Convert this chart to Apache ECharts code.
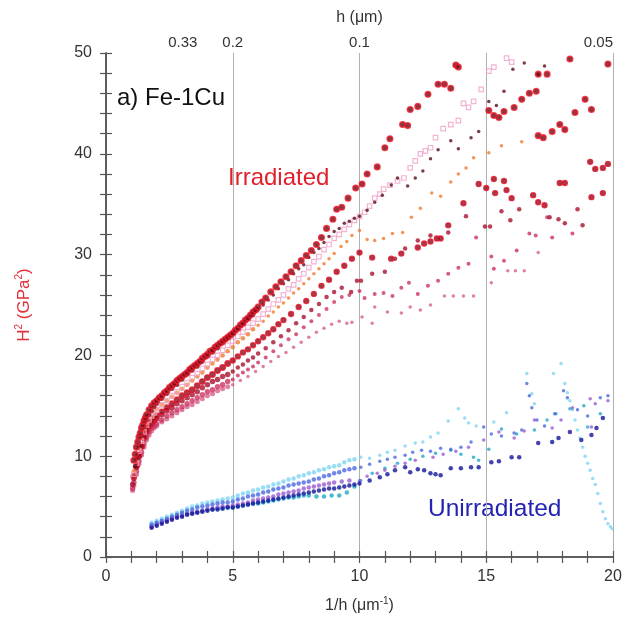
<!DOCTYPE html>
<html>
<head>
<meta charset="utf-8">
<script src="https://cdn.jsdelivr.net/npm/echarts@6/dist/echarts.min.js"></script>
<style>html,body{margin:0;padding:0;background:#fff;}#c{width:633px;height:632px;}</style>
</head>
<body>
<div id="c"></div>
<script>
// ---- tick labels ----
const bottomTicks = [0, 5, 10, 15, 20];
const topTickPositions = [3.03, 5, 10, 20];
const topTickLabels = ['0.33', '0.2', '0.1', '0.05'];
const yTicks = [0, 10, 20, 30, 40, 50];

// ---- Irradiated series ([1/h, H^2]) ----
const irrA = [[1.1,9.6],[1.15,10.2],[1.2,10.9],[1.25,11.4],[1.3,11.9],[1.35,12.3],[1.4,12.8],[1.45,13.1],[1.5,13.5],[1.55,13.8],[1.6,14.1],[1.7,14.6],[1.8,15.0],[1.9,15.3],[2.0,15.5],[2.1,15.8],[2.2,16.0],[2.3,16.3],[2.4,16.5],[2.5,16.8],[2.6,17.0],[2.7,17.2],[2.8,17.5],[2.9,17.7],[3.0,17.9],[3.1,18.1],[3.2,18.3],[3.3,18.6],[3.4,18.8],[3.5,19.0],[3.6,19.2],[3.7,19.4],[3.8,19.7],[3.9,19.9],[4.0,20.1],[4.1,20.4],[4.2,20.5],[4.3,20.8],[4.4,21.0],[4.5,21.2],[4.6,21.4],[4.7,21.6],[4.8,21.8],[4.9,22.0],[5.0,22.2],[5.1,22.5],[5.2,22.7],[5.3,23.0],[5.4,23.2],[5.5,23.5],[5.6,23.7],[5.7,24.0],[5.8,24.3],[5.9,24.5],[6.0,24.8],[6.15,25.3],[6.3,25.7],[6.5,26.3],[6.7,26.8],[6.9,27.3],[7.1,27.8],[7.3,28.3],[7.5,28.9],[7.7,29.4],[7.9,29.9],[8.1,30.4],[8.3,31.0],[8.5,31.7],[8.7,32.6],[8.95,33.5],[9.1,34.5],[9.3,34.7],[9.55,35.6],[9.85,36.6],[10.1,37.0],[10.3,38.0],[10.7,38.7],[11.0,40.6],[11.2,41.5],[11.7,42.9],[11.9,42.8],[12.0,44.4],[12.3,44.7],[12.7,45.9],[13.1,46.9],[13.35,46.9],[13.6,46.5],[13.8,48.8],[13.9,48.6],[15.1,44.3],[15.3,43.8],[15.5,43.6],[15.7,44.2],[16.1,44.6],[16.4,45.4],[16.7,46.0],[16.97,46.2],[17.05,47.9],[17.4,47.9],[18.3,49.4],[19.8,48.9],[18.9,45.4],[19.15,44.4],[18.5,44.1],[17.9,42.9],[18.1,42.4],[17.6,42.2],[17.05,41.8],[17.25,41.6]];
const irrB = [[1.15,9.0],[1.2,9.8],[1.3,11.0],[1.4,12.0],[1.5,12.9],[1.6,13.6],[1.7,14.1],[1.8,14.5],[1.9,14.9],[2.0,15.2],[2.2,15.7],[2.4,16.2],[2.6,16.7],[2.8,17.1],[3.0,17.6],[3.2,18.1],[3.4,18.5],[3.6,18.9],[3.8,19.4],[4.0,19.9],[4.2,20.3],[4.4,20.7],[4.6,21.2],[4.8,21.7],[5.0,22.2],[5.2,22.6],[5.4,23.1],[5.6,23.6],[5.8,24.0],[6.0,24.5],[6.2,25.0],[6.4,25.5],[6.6,26.0],[6.8,26.6],[7.0,27.1],[7.2,27.5],[7.4,28.1],[7.6,28.6],[7.8,29.0],[8.0,29.7],[8.2,30.2],[8.4,30.6],[8.6,31.2],[8.8,31.8],[9.0,32.3],[9.2,32.6],[9.4,33.1],[9.6,33.3],[9.8,33.6],[10.0,33.8],[10.3,34.4],[10.6,35.2],[10.9,35.9],[11.25,36.9],[11.5,37.6],[11.9,36.8],[12.2,37.6],[12.5,38.3],[12.8,39.5],[13.1,40.4],[13.6,41.3],[13.9,40.5],[14.4,41.6],[14.7,42.2],[15.1,45.2],[15.4,44.8],[15.7,46.2],[16.05,48.4],[16.5,49.0],[17.05,47.9],[17.3,48.7]];
const irrC = [[1.1,8.5],[1.2,9.6],[1.3,10.8],[1.4,11.8],[1.5,12.7],[1.6,13.3],[1.7,13.8],[1.8,14.1],[1.9,14.4],[2.0,14.7],[2.2,15.1],[2.4,15.5],[2.6,15.9],[2.8,16.3],[3.0,16.7],[3.2,17.1],[3.4,17.5],[3.6,17.9],[3.8,18.3],[4.0,18.8],[4.2,19.2],[4.4,19.6],[4.6,20.0],[4.8,20.4],[5.0,20.8],[5.2,21.3],[5.4,21.7],[5.6,22.1],[5.8,22.6],[6.0,23.0],[6.2,23.4],[6.4,23.9],[6.6,24.3],[6.8,24.8],[7.0,25.2],[7.2,25.7],[7.4,26.2],[7.6,26.6],[7.8,27.1],[8.0,27.6],[8.2,28.1],[8.4,28.6],[8.6,29.1],[8.8,29.6],[9.0,30.1],[9.27,30.8],[9.5,31.3],[9.7,31.9],[10.0,32.4],[10.3,31.5],[10.6,31.4],[10.95,31.6],[11.3,32.1],[11.7,32.2],[12.05,33.7],[12.4,34.6],[12.85,36.1],[13.2,35.8],[13.6,37.2],[13.9,38.0],[14.2,38.6],[14.5,39.6],[15.1,40.1],[15.6,40.8],[16.4,41.2]];
const irrD = [[1.1,8.2],[1.2,9.3],[1.3,10.5],[1.4,11.5],[1.5,12.4],[1.6,13.1],[1.7,13.6],[1.8,14.0],[1.9,14.3],[2.0,14.6],[2.2,15.1],[2.4,15.5],[2.6,16.0],[2.8,16.4],[3.0,16.9],[3.2,17.3],[3.4,17.8],[3.6,18.2],[3.8,18.7],[4.0,19.1],[4.2,19.6],[4.4,20.0],[4.6,20.5],[4.8,21.0],[5.0,21.4],[5.2,21.9],[5.4,22.3],[5.6,22.8],[5.8,23.2],[6.0,23.6],[6.2,24.1],[6.4,24.6],[6.6,25.1],[6.8,25.5],[7.0,26.0],[7.2,26.6],[7.4,27.0],[7.6,27.6],[7.8,28.1],[8.0,28.7],[8.2,29.3],[8.4,29.8],[8.6,30.5],[8.8,31.0],[9.0,31.6],[9.2,32.0],[9.4,32.5],[9.6,33.0],[9.8,33.4],[10.0,33.8],[10.2,34.2],[10.4,34.8],[10.6,35.6],[10.8,36.0],[10.95,36.5],[11.2,36.9],[11.5,37.3],[11.75,37.6],[12.0,38.6],[12.2,39.3],[12.4,40.0],[12.6,40.3],[12.8,40.6],[13.0,41.6],[13.3,42.5],[13.6,42.9],[13.9,43.3],[14.1,45.0],[14.3,44.6],[14.5,45.2],[14.8,46.4],[15.1,48.2],[15.3,48.6],[15.8,49.5],[16.0,49.1]];
const irrE = [[1.1,8.0],[1.2,9.0],[1.3,10.1],[1.4,11.0],[1.5,11.9],[1.6,12.6],[1.7,13.1],[1.8,13.5],[1.9,13.8],[2.0,14.0],[2.2,14.4],[2.4,14.8],[2.6,15.2],[2.8,15.6],[3.0,16.0],[3.2,16.3],[3.4,16.6],[3.6,17.0],[3.8,17.4],[4.0,17.8],[4.2,18.1],[4.4,18.5],[4.6,18.8],[4.8,19.2],[5.0,19.5],[5.2,19.9],[5.4,20.3],[5.6,20.6],[5.8,21.0],[6.0,21.4],[6.2,21.8],[6.4,22.2],[6.6,22.6],[6.8,23.1],[7.0,23.5],[7.3,24.1],[7.6,24.8],[7.9,25.4],[8.2,26.1],[8.5,26.9],[8.8,27.5],[9.1,28.3],[9.4,28.9],[9.7,29.6],[10.0,30.2],[10.5,29.7],[11.25,29.6],[11.65,30.1],[12.3,30.7],[12.55,31.1],[12.8,31.3],[13.05,31.6],[13.2,31.6],[13.5,32.9],[14.1,35.1],[14.7,37.0],[15.0,36.6],[15.3,37.5],[15.7,37.3],[15.35,36.1],[15.8,36.4],[16.0,35.6],[16.85,35.9],[17.05,35.2],[17.3,34.9],[17.9,37.1],[18.1,37.1],[19.15,35.7],[19.6,36.1],[19.1,39.2],[19.3,38.5],[19.6,38.6],[19.8,39.0]];
const irrF = [[1.05,7.2],[1.1,7.8],[1.2,8.9],[1.3,9.9],[1.4,10.9],[1.5,11.7],[1.6,12.4],[1.7,12.9],[1.8,13.2],[1.9,13.5],[2.0,13.7],[2.2,14.1],[2.4,14.5],[2.6,14.8],[2.8,15.2],[3.0,15.5],[3.2,15.8],[3.4,16.1],[3.6,16.4],[3.8,16.8],[4.0,17.1],[4.2,17.4],[4.4,17.6],[4.6,17.9],[4.8,18.1],[5.0,18.4],[5.2,18.8],[5.4,19.1],[5.6,19.5],[5.8,19.8],[6.0,20.2],[6.3,20.7],[6.6,21.3],[6.9,21.9],[7.2,22.5],[7.5,23.2],[7.8,23.8],[8.1,24.5],[8.4,25.1],[8.7,25.8],[9.0,26.3],[9.3,26.7],[9.67,26.3],[9.9,27.4],[10.06,27.4],[10.5,28.1],[11.0,28.3],[11.4,29.6],[11.8,30.6],[12.3,31.4],[12.8,31.9],[13.5,32.2],[14.2,33.8],[14.95,32.8],[15.15,32.8],[15.6,34.3],[15.95,33.4],[16.3,34.5],[17.5,33.7],[17.85,33.5],[18.1,33.1],[18.6,34.5],[18.8,32.9]];
const irrG = [[1.05,6.8],[1.1,7.4],[1.2,8.5],[1.3,9.5],[1.4,10.4],[1.5,11.2],[1.6,11.9],[1.7,12.4],[1.8,12.8],[1.9,13.0],[2.0,13.2],[2.2,13.6],[2.4,14.0],[2.6,14.3],[2.8,14.6],[3.0,14.9],[3.2,15.2],[3.4,15.5],[3.6,15.8],[3.8,16.1],[4.0,16.4],[4.2,16.6],[4.4,16.9],[4.6,17.1],[4.8,17.4],[5.0,17.6],[5.2,18.0],[5.4,18.3],[5.6,18.6],[5.8,18.9],[6.0,19.3],[6.3,19.8],[6.6,20.4],[6.9,21.0],[7.2,21.6],[7.5,22.1],[7.8,22.8],[8.1,23.4],[8.4,24.0],[8.7,24.6],[9.0,25.3],[9.3,25.8],[9.6,26.0],[10.0,26.4],[10.2,25.7],[10.6,26.1],[10.95,26.2],[11.3,25.9],[11.65,26.7],[11.95,27.2],[12.3,26.1],[12.7,26.9],[13.1,27.4],[13.5,28.1],[13.9,28.7],[14.3,29.1],[14.6,31.7],[15.2,29.8],[15.3,28.6],[15.7,29.4],[16.2,30.4],[16.7,32.1],[16.95,31.9],[17.4,33.7],[17.6,31.7],[18.4,32.1]];
const irrH = [[1.05,6.6],[1.1,7.1],[1.2,8.2],[1.3,9.2],[1.4,10.1],[1.5,10.9],[1.6,11.6],[1.7,12.1],[1.8,12.5],[1.9,12.8],[2.0,13.0],[2.2,13.4],[2.4,13.7],[2.6,14.0],[2.8,14.3],[3.0,14.6],[3.2,14.9],[3.4,15.1],[3.6,15.4],[3.8,15.7],[4.0,16.0],[4.2,16.2],[4.4,16.5],[4.6,16.7],[4.8,16.9],[5.0,17.1],[5.3,17.5],[5.6,17.9],[5.9,18.4],[6.2,18.9],[6.5,19.4],[6.8,19.9],[7.1,20.3],[7.4,20.8],[7.7,21.3],[8.0,21.8],[8.3,22.3],[8.6,22.7],[8.9,23.1],[9.2,23.4],[9.5,23.2],[9.7,23.3],[10.1,23.8],[10.5,23.2],[10.6,24.8],[11.1,24.3],[11.65,24.2],[12.0,24.8],[12.4,24.5],[12.8,25.0],[13.35,25.9],[13.7,25.9],[14.1,25.9],[14.5,25.9],[15.2,27.2],[15.85,28.4],[16.15,28.4],[16.5,28.4],[17.05,30.2]];

// ---- Unirradiated series ----
const unCyan = [[1.8,3.4],[2.0,3.6],[2.2,3.8],[2.4,4.0],[2.6,4.2],[2.8,4.4],[3.0,4.6],[3.2,4.8],[3.4,5.0],[3.6,5.1],[3.8,5.3],[4.0,5.4],[4.2,5.5],[4.4,5.6],[4.6,5.7],[4.8,5.8],[5.0,5.9],[5.2,6.1],[5.4,6.3],[5.6,6.4],[5.8,6.6],[6.0,6.7],[6.2,6.9],[6.4,7.0],[6.6,7.2],[6.8,7.3],[7.0,7.5],[7.2,7.7],[7.4,7.8],[7.6,8.0],[7.8,8.1],[8.0,8.3],[8.2,8.4],[8.4,8.6],[8.6,8.7],[8.8,8.9],[9.0,9.0],[9.2,9.1],[9.4,9.4],[9.6,9.6],[9.8,9.7],[10.05,9.9],[10.4,9.8],[10.8,10.1],[11.1,10.4],[11.4,10.6],[11.8,11.0],[12.2,11.3],[12.5,11.4],[12.8,11.9],[13.1,12.3],[13.5,13.5],[13.9,14.7],[14.15,13.8],[14.3,13.3],[14.6,13.0],[15.3,13.4],[15.8,14.3],[16.6,18.2],[16.8,16.2],[16.9,15.2],[17.65,18.2],[17.95,19.2],[18.1,17.2],[18.2,16.3],[18.3,15.5],[18.4,14.6],[18.5,13.6],[18.6,12.6],[18.7,11.8],[18.8,10.9],[18.9,10.0],[19.0,9.3],[19.1,8.6],[19.2,7.8],[19.3,7.2],[19.4,6.3],[19.5,5.3],[19.6,4.5],[19.7,3.8],[19.8,3.3],[19.9,3.0],[19.97,2.8]];
const unBlue = [[1.8,3.2],[2.0,3.4],[2.2,3.6],[2.4,3.8],[2.6,4.0],[2.8,4.2],[3.0,4.4],[3.2,4.6],[3.4,4.7],[3.6,4.9],[3.8,5.0],[4.0,5.1],[4.2,5.2],[4.4,5.3],[4.6,5.4],[4.8,5.4],[5.0,5.5],[5.2,5.7],[5.4,5.8],[5.6,6.0],[5.8,6.1],[6.0,6.2],[6.2,6.4],[6.4,6.5],[6.6,6.7],[6.8,6.8],[7.0,6.9],[7.2,7.1],[7.4,7.2],[7.6,7.3],[7.8,7.4],[8.0,7.5],[8.2,7.7],[8.4,7.8],[8.6,8.0],[8.8,8.1],[9.0,8.3],[9.2,8.4],[9.4,8.6],[9.6,8.7],[9.8,8.8],[10.05,8.9],[10.4,9.2],[10.8,9.5],[11.1,9.7],[11.4,9.9],[11.8,10.1],[12.1,10.4],[12.45,10.6],[12.8,10.5],[13.2,10.8],[13.6,10.7],[14.0,10.9],[14.4,11.4],[14.9,12.9],[15.2,12.2],[15.6,12.0],[16.1,12.3],[16.4,12.6],[16.6,17.2],[16.7,16.0],[16.8,14.8],[17.0,13.6],[17.3,13.0],[17.7,14.2],[18.05,16.5],[18.2,15.8],[18.6,14.6],[19.0,14.0],[19.5,15.8],[19.8,16.0]];
const unPurple = [[1.8,3.0],[2.0,3.2],[2.2,3.4],[2.4,3.6],[2.6,3.8],[2.8,4.0],[3.0,4.1],[3.2,4.3],[3.4,4.4],[3.6,4.5],[3.8,4.6],[4.0,4.7],[4.2,4.8],[4.4,4.9],[4.6,5.0],[4.8,5.0],[5.0,5.1],[5.2,5.2],[5.4,5.3],[5.6,5.4],[5.8,5.6],[6.0,5.7],[6.2,5.8],[6.4,5.9],[6.6,6.0],[6.8,6.2],[7.0,6.3],[7.2,6.4],[7.4,6.5],[7.6,6.6],[7.8,6.8],[8.0,6.9],[8.2,7.0],[8.4,7.1],[8.6,7.2],[8.8,7.3],[9.0,7.4],[9.3,7.5],[9.6,7.6],[10.0,7.6],[10.3,8.0],[10.7,8.3],[11.0,8.6],[11.4,9.0],[11.8,9.3],[12.2,9.6],[12.9,9.9],[13.3,10.2],[13.8,10.5],[14.3,10.9],[14.9,11.6],[15.5,12.4],[16.1,11.8],[16.5,12.5],[16.9,13.6],[17.6,12.8],[17.95,13.6],[18.4,14.8],[19.1,15.7],[19.3,15.2],[19.8,15.5],[19.15,12.9]];
const unNavy = [[1.8,2.9],[2.0,3.1],[2.2,3.3],[2.4,3.5],[2.6,3.7],[2.8,3.9],[3.0,4.0],[3.2,4.2],[3.4,4.3],[3.6,4.4],[3.8,4.5],[4.0,4.6],[4.2,4.7],[4.4,4.7],[4.6,4.8],[4.8,4.9],[5.0,4.9],[5.2,5.0],[5.4,5.1],[5.6,5.2],[5.8,5.3],[6.0,5.4],[6.2,5.5],[6.4,5.6],[6.6,5.7],[6.8,5.8],[7.0,5.9],[7.2,6.0],[7.4,6.1],[7.6,6.2],[7.8,6.3],[8.0,6.4],[8.2,6.5],[8.4,6.6],[8.6,6.7],[8.8,6.8],[9.0,6.8],[9.2,6.9],[9.4,7.0],[9.6,7.1],[9.8,7.2],[10.0,7.3],[10.4,7.6],[10.8,7.9],[11.1,8.2],[11.4,8.6],[11.8,8.9],[12.0,8.4],[12.3,8.7],[12.55,8.6],[12.8,8.3],[13.0,8.2],[13.2,8.1],[13.6,8.8],[14.0,8.8],[14.4,8.9],[14.7,8.9],[15.2,9.4],[15.5,9.5],[16.0,9.9],[16.3,9.9],[17.05,11.3],[17.6,11.4],[17.85,11.8],[18.3,12.4],[18.75,11.6],[19.15,12.1],[19.35,12.8],[19.6,13.8]];
const unTeal = [[1.8,3.1],[2.0,3.3],[2.2,3.5],[2.4,3.7],[2.6,3.9],[2.8,4.1],[3.0,4.2],[3.2,4.3],[3.4,4.4],[3.6,4.5],[3.8,4.6],[4.0,4.7],[4.2,4.7],[4.4,4.8],[4.6,4.8],[4.8,4.9],[5.0,4.9],[5.2,5.0],[5.4,5.1],[5.6,5.2],[5.8,5.3],[6.0,5.3],[6.2,5.4],[6.4,5.5],[6.6,5.6],[6.8,5.7],[7.0,5.8],[7.2,5.9],[7.4,5.9],[7.6,6.0],[7.8,6.1],[8.0,6.1],[8.3,6.0],[8.6,6.0],[8.9,6.1],[9.2,6.1],[9.5,6.4],[9.8,7.0],[10.05,7.6],[10.5,8.3],[11.0,8.8],[11.5,9.3],[12.0,9.7],[12.5,10.0],[13.0,10.3],[13.6,10.6],[14.0,10.2],[14.5,9.9],[14.7,9.6],[15.1,10.7],[15.6,12.7],[16.2,12.2],[16.9,12.6],[17.4,13.6],[17.75,14.2],[18.3,14.7],[18.85,15.0],[19.0,12.9],[19.5,14.2]];

const FONT = 'Liberation Sans, Arial, sans-serif';
const chart = echarts.init(document.getElementById('c'), null, {renderer: 'canvas'});

// symbols are drawn a little larger where the measured points are densely packed
function sizeFn(base, denseLimit, boost) {
  return v => (v[0] < denseLimit ? base + boost : base);
}
function sc(name, data, color, size, extra, denseLimit, boost) {
  return Object.assign({
    name, type: 'scatter', data, symbolSize: sizeFn(size, denseLimit || 0, boost || 0),
    xAxisIndex: 0, yAxisIndex: 0, itemStyle: {color: color}, silent: true
  }, extra || {});
}

const axisLine = {show: true, lineStyle: {color: '#555', width: 1.5}};
const tickStyle = {lineStyle: {color: '#555', width: 1.2}};

chart.setOption({
  animation: false,
  backgroundColor: '#fff',
  grid: {left: 106, right: 20, top: 53, bottom: 75, containLabel: false},
  xAxis: [
    {
      type: 'value', position: 'bottom', min: 0, max: 20, interval: 5,
      axisLine: axisLine,
      axisTick: Object.assign({show: true, inside: true, length: 6}, tickStyle),
      minorTick: Object.assign({show: true, splitNumber: 5, length: 6}, tickStyle),
      splitLine: {show: true, lineStyle: {color: '#b0b0b0', width: 1}},
      axisLabel: {fontFamily: FONT, fontSize: 16, color: '#333', margin: 12,
        formatter: v => bottomTicks.includes(v) ? String(v) : ''},
      name: '{a|1/h (μm}{s|-1}{a|)}', nameLocation: 'middle', nameGap: 39,
      nameTextStyle: {fontFamily: FONT, fontSize: 16, color: '#333',
        rich: {a: {fontFamily: FONT, fontSize: 16, color: '#333', lineHeight: 20},
               s: {fontFamily: FONT, fontSize: 10, color: '#333', verticalAlign: 'top', lineHeight: 20}}}
    },
    {
      type: 'value', position: 'top', min: 0, max: 20, interval: 5,
      axisLine: axisLine,
      axisTick: Object.assign({show: true, inside: true, length: 6}, tickStyle),
      minorTick: Object.assign({show: true, splitNumber: 5, length: 6}, tickStyle),
      splitLine: {show: false},
      axisLabel: {fontFamily: FONT, fontSize: 15, color: '#333', margin: 3,
        customValues: topTickPositions, alignMaxLabel: 'right',
        formatter: v => {
          const i = topTickPositions.findIndex(p => Math.abs(p - v) < 1e-6);
          return i >= 0 ? topTickLabels[i] : '';
        }},
      name: 'h (μm)', nameLocation: 'middle', nameGap: 27,
      nameTextStyle: {fontFamily: FONT, fontSize: 16, color: '#333'}
    }
  ],
  yAxis: [
    {
      type: 'value', position: 'left', min: 0, max: 50, interval: 10,
      axisLine: axisLine,
      axisTick: Object.assign({show: true, inside: true, length: 6}, tickStyle),
      minorTick: Object.assign({show: true, splitNumber: 5, length: 6}, tickStyle),
      splitLine: {show: false},
      axisLabel: {fontFamily: FONT, fontSize: 16, color: '#333', margin: 14,
        formatter: v => yTicks.includes(v) ? String(v) : ''},
      name: '{a|H}{s|2}{a| (GPa}{s|2}{a|)}', nameLocation: 'middle', nameGap: 72, nameRotate: 90,
      nameTextStyle: {fontFamily: FONT, fontSize: 17, color: '#e0303a',
        rich: {a: {fontFamily: FONT, fontSize: 17, color: '#e0303a', lineHeight: 20},
               s: {fontFamily: FONT, fontSize: 10, color: '#e0303a', verticalAlign: 'top', lineHeight: 20}}}
    },
    {
      type: 'value', position: 'right', min: 0, max: 50, interval: 10,
      axisLine: axisLine,
      axisTick: Object.assign({show: true, inside: true, length: 6}, tickStyle),
      minorTick: Object.assign({show: true, splitNumber: 5, length: 6}, tickStyle),
      splitLine: {show: false},
      axisLabel: {show: false}
    }
  ],
  series: [
    sc('Irr H', irrH, '#d8608a', 3.5, null, 5, 1.5),
    sc('Irr G', irrG, '#cc3462', 4, null, 5, 1.5),
    sc('Irr F', irrF, '#a8122e', 4.5, null, 5, 1),
    sc('Irr E', irrE, '#7a0a18', 5, {itemStyle: {color: '#8a0c1c', borderColor: '#e4142a', borderWidth: 1.4}}, 5, 0.5),
    sc('Irr C', irrC, '#f07a2c', 3.5, null, 6, 1),
    sc('Irr D', irrD, '#f3a8cc', 4.5, {symbol: 'rect', itemStyle: {color: 'rgba(255,255,255,0.2)', borderColor: '#f0a0c8', borderWidth: 1.2}}),
    sc('Irr B', irrB, '#5a0c18', 3.5, null, 6, 1),
    sc('Irr A', irrA, '#5a0812', 5.5, {itemStyle: {color: '#6a0814', borderColor: '#ee1a2c', borderWidth: 1.6}}),
    sc('Un cyan', unCyan, '#7fd4f2', 3.5, null, 10, 1),
    sc('Un teal', unTeal, '#22a8c8', 3.5, null, 10, 1),
    sc('Un blue', unBlue, '#4a68e0', 3.5, null, 10, 1),
    sc('Un purple', unPurple, '#9a5cd0', 3.5, null, 10, 1),
    sc('Un navy', unNavy, '#14149a', 4.5)
  ],
  graphic: [
    {type: 'text', left: 117, top: 86, style: {text: 'a) Fe-1Cu', fontFamily: FONT, fontSize: 24, fill: '#111'}},
    {type: 'text', left: 228, top: 166, style: {text: 'Irradiated', fontFamily: FONT, fontSize: 24, fill: '#e0202a'}},
    {type: 'text', left: 428, top: 497, style: {text: 'Unirradiated', fontFamily: FONT, fontSize: 24.5, fill: '#2424b4'}}
  ]
});
</script>
</body>
</html>
